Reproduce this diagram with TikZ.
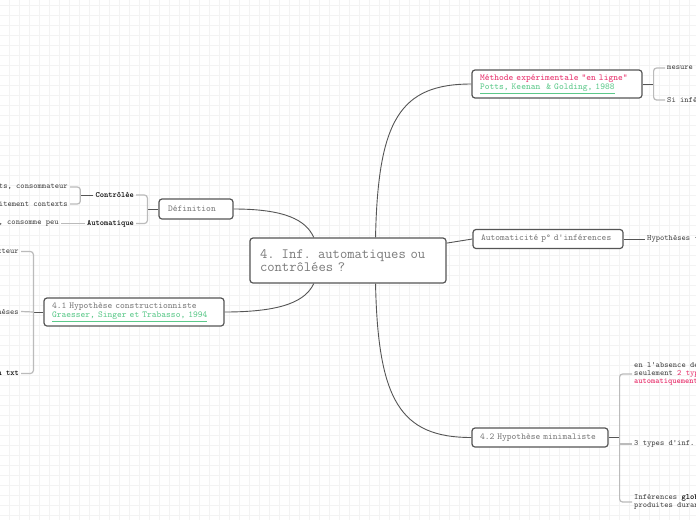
\documentclass[tikz,border=0pt]{standalone}
\usepackage{fontspec}
\usetikzlibrary{positioning}

\definecolor{ink}{HTML}{555555}
\definecolor{txtgray}{HTML}{7A7A7A}
\definecolor{leafgray}{HTML}{444444}
\definecolor{twigc}{HTML}{BBBBBB}
\definecolor{gridc}{HTML}{F3F3F3}
\definecolor{pinkc}{HTML}{E8306C}
\definecolor{linkc}{HTML}{5CC98A}

\newcommand{\bigtt}{\ttfamily\fontsize{14.2}{13.5}\selectfont}
\newcommand{\midtt}{\ttfamily\fontsize{9.1}{9.5}\selectfont}
\newcommand{\smalltt}{\ttfamily\fontsize{8.1}{8.2}\selectfont}

\tikzset{
  topic/.style={draw=ink, line width=1.2pt, rounded corners=3pt, fill=white,
    text=txtgray, align=left, inner xsep=8pt, inner ysep=0pt, font=\midtt},
  leaf/.style={text=leafgray, font=\smalltt, inner sep=2pt, align=left},
  boldleaf/.style={leaf, text=black, font=\smalltt\bfseries},
  branch/.style={draw=ink, line width=0.9pt},
  twig/.style={draw=twigc, line width=1.2pt, rounded corners=3pt},
  gridline/.style={draw=gridc, line width=0.6pt}
}

\begin{document}
\begin{tikzpicture}[x=1pt,y=-1pt]
	\useasboundingbox (0,0) rectangle (696,520);
	\fill[white] (0,0) rectangle (696,520);
	\clip (0,0) rectangle (696,520);

	% grid
	\foreach \x in {9.5,19.5,...,689.5} \draw[gridline] (\x,0) -- (\x,520);
	\foreach \y in {5,15,...,515} \draw[gridline] (0,\y) -- (696,\y);

	% main topic and branches
	\node[topic, font=\bigtt, text width=176pt, inner xsep=10pt, minimum height=45pt] (main) at (348,260.5) {4. Inf. automatiques ou\\contrôlées ?};

	\node[topic, text width=154pt, minimum height=28pt] (meth) at (557,84) {{\color{pinkc}Méthode expérimentale "en ligne"}\\{\color{linkc}\underline{Potts, Keenan\ \ \& Golding, 1988}}};
	\node[topic, text width=134pt, minimum height=19pt] (auto) at (548,239) {Automaticité p° d'inférences};
	\node[topic, text width=120pt, minimum height=19pt] (mini) at (540,437.5) {4.2 Hypothèse minimaliste};
	\node[topic, text width=56pt, inner xsep=9pt, minimum height=20pt] (def) at (196,209) {Définition};
	\node[topic, text width=164pt, minimum height=28pt] (cons) at (134,312) {4.1 Hypothèse constructionniste\\{\color{linkc}\underline{Graesser, Singer et Trabasso, 1994}}};

	\draw[branch] (main.40) .. controls (378,120) and (400,84) .. (meth.west);
	\draw[branch] (main.10) -- (auto.west);
	\draw[branch] (main.-40) .. controls (378,400) and (400,437.5) .. (mini.west);
	\draw[branch] (def.east) .. controls (285,209) and (306,220) .. (main.146);
	\draw[branch] (cons.east) .. controls (285,312) and (306,300) .. (main.-146);

	% left side
	\node[boldleaf, anchor=east] (ctrl) at (136,195) {Contrôlée};
	\node[boldleaf, anchor=east] (autom) at (136,223.5) {Automatique};
	\node[leaf, anchor=east] (c1) at (70,187) {ts, consommateur};
	\node[leaf, anchor=east] (c2) at (70,204) {itement contexts};
	\node[leaf, anchor=east] (a1) at (61,223.5) {, consomme peu};

	\draw[branch] (def.west) -- ++(-11,0) coordinate (defj);
	\draw[twig] (ctrl.east) -| (defj) |- (autom.east);
	\draw[branch] (ctrl.west) -- ++(-13,0) coordinate (ctrlj);
	\draw[twig] (c1.east) -| (ctrlj) |- (c2.east);
	\draw[twig] (autom.west) -- (a1.east);

	\node[leaf, anchor=east] (h1) at (21,251.5) {cteur};
	\node[leaf, anchor=east] (h2) at (21,311.5) {nèses};
	\node[boldleaf, anchor=east] (h3) at (21,373.5) {n txt};

	\draw[branch] (cons.west) -- ++(-10,0) coordinate (consj);
	\draw[twig] (h1.east) -| (consj) |- (h3.east);
	\draw[twig] (h2.east) -- (consj);

	% right side
	\node[leaf, anchor=west] (m1) at (665,68) {mesure -};
	\node[leaf, anchor=west] (m2) at (665,100) {Si inférences};
	\draw[branch] (meth.east) -- ++(11,0) coordinate (methj);
	\draw[twig] (m1.west) -| (methj) |- (m2.west);

	\node[leaf, anchor=west] (auto1) at (645,239) {Hypothèses -};
	\draw[branch] (auto.east) -- (auto1.west);

	\node[leaf, anchor=west] (n1) at (632,374) {en l'absence de\\seulement {\color{pinkc}2 types}\\{\color{pinkc}\bfseries automatiquement}};
	\node[leaf, anchor=west] (n2) at (632,444) {3 types d'inf.};
	\node[leaf, anchor=west] (n3) at (632,502) {Inférences {\color{black}\bfseries globales}\\produites durant};
	\draw[branch] (mini.east) -- ++(11,0) coordinate (minij);
	\draw[twig] (n1.west) -| (minij) |- (n3.west);
	\draw[twig] (n2.west) -- (minij |- n2.west);
\end{tikzpicture}
\end{document}
